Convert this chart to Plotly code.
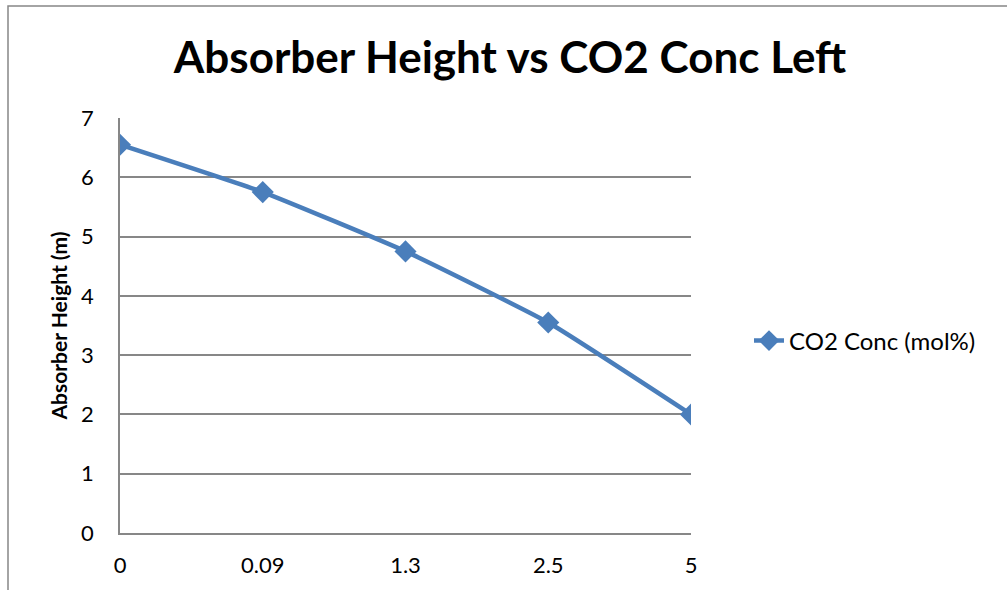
import plotly.graph_objects as go

# Gas CO2 concentration categories and corresponding absorber heights
co2_conc = ["0", "0.09", "1.3", "2.5", "5"]
absorber_height = [6.55, 5.75, 4.75, 3.55, 2.0]
y_ticks = [0, 1, 2, 3, 4, 5, 6, 7]

W, H = 1007, 590
L, R, T, B = 120, 316, 118, 57
pw, ph = W - L - R, H - T - B

blue = "#4A7EBB"
grid = "#878787"
font = "Lato, Calibri, Carlito, sans-serif"

fig = go.Figure()
fig.add_trace(go.Scatter(
    x=co2_conc,
    y=absorber_height,
    mode="lines+markers",
    name="CO2 Conc (mol%)",
    line=dict(color=blue, width=4.5, shape="spline", smoothing=0.4),
    marker=dict(symbol="diamond", size=17, color=blue),
))

fig.update_layout(
    width=W, height=H,
    margin=dict(l=L, r=R, t=T, b=B),
    paper_bgcolor="white", plot_bgcolor="white",
    font=dict(family=font, color="black", size=22),
    title=dict(
        text="<b>Absorber Height vs CO2 Conc Left</b>",
        font=dict(size=44, family=font, color="black"),
        x=510 / W, xanchor="center", xref="container",
        y=1 - 58 / H, yanchor="middle", yref="container",
    ),
    showlegend=True,
    legend=dict(
        x=1 + 58 / pw, xanchor="left",
        y=1 - (341 - T) / ph, yanchor="middle",
        font=dict(size=24, family=font),
        bgcolor="rgba(0,0,0,0)",
    ),
    xaxis=dict(
        type="category", range=[0, 4],
        showgrid=False, showline=True, linecolor=grid, linewidth=1.5,
        ticks="", tickfont=dict(size=22), ticklabelstandoff=12,
    ),
    yaxis=dict(
        range=[0, 7], tickvals=y_ticks,
        showgrid=True, gridcolor=grid, gridwidth=1.5,
        showline=True, linecolor=grid, linewidth=1.5,
        ticks="", tickfont=dict(size=22), zeroline=False,
        ticklabelstandoff=20,
        title=dict(text="<b>Absorber Height (m)</b>", font=dict(size=21), standoff=8),
    ),
)

# Outer chart frame
fig.add_shape(
    type="rect", xref="paper", yref="paper",
    x0=-(L - 8) / pw, x1=1 + (R + 10) / pw,
    y0=-(B + 10) / ph, y1=1 + (T - 6) / ph,
    line=dict(color=grid, width=1.5), fillcolor="rgba(0,0,0,0)", layer="below",
)

fig.write_html("out.html")
